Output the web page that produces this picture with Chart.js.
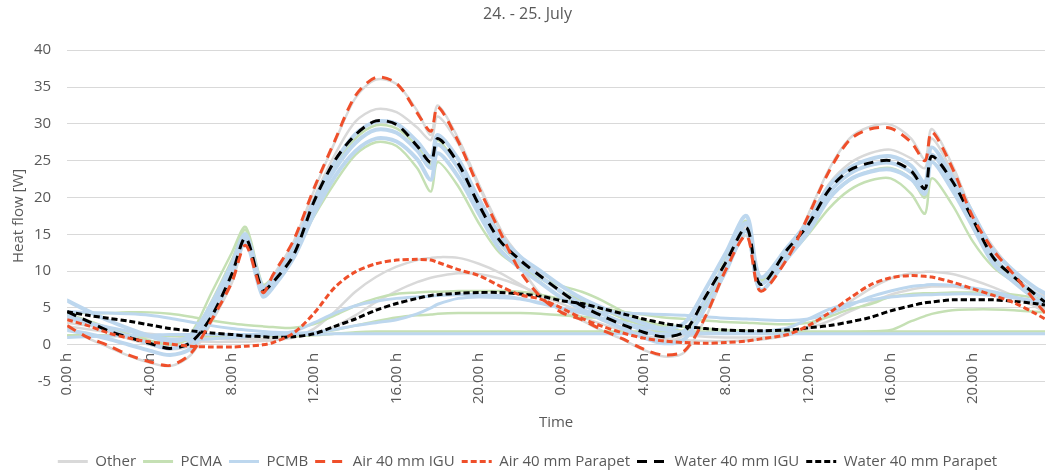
<!DOCTYPE html>
<html>
<head>
<meta charset="utf-8">
<script src="https://cdn.jsdelivr.net/npm/chart.js@4"></script>
<style>
  body { margin: 0; background: #fff; }
  canvas { display: block; }
</style>
</head>
<body>
<canvas id="heatChart" width="1048" height="474"></canvas>
<script>
// time in hours over the two days (extra points around the sharp peaks)
const hours = [0, 1, 2, 3, 4, 5, 6, 7, 8, 8.67, 9.5, 10, 11, 12, 13, 14, 15, 16, 17, 17.67, 18, 19, 20, 21, 22, 23,
  24, 25, 26, 27, 28, 29, 30, 31, 32, 33, 33.67, 35, 36, 37, 38, 39, 40, 41, 41.67, 42, 43, 44, 45, 46, 47, 47.5];

const xTicks = [0, 4, 8, 12, 16, 20, 24, 28, 32, 36, 40, 44];
const yTicks = [-5, 0, 5, 10, 15, 20, 25, 30, 35, 40];

// named series
const airIgu = [2.6, 1.0, -0.1, -1.4, -2.3, -2.8, -1.2, 3.3, 8.5, 13.5, 7.1, 9.5, 14.2, 21.3, 27.7, 33.8, 36.3, 35.5, 31.5, 29.0, 32.3, 27.6, 21.3, 15.5, 10.0, 6.5,
  4.4, 3.4, 2.0, 0.8, -0.6, -1.4, -0.8, 3.8, 10.2, 14.8, 7.3, 11.8, 17.5, 23.5, 27.8, 29.3, 29.4, 27.5, 25.0, 28.9, 24.0, 17.3, 12.8, 9.5, 6.0, 4.3];
const airParapet = [3.4, 2.6, 1.6, 0.9, 0.4, 0.1, -0.2, -0.3, -0.3, -0.2, 0.0, 0.3, 1.6, 4.3, 7.8, 9.9, 11.0, 11.5, 11.6, 11.5, 11.2, 10.2, 9.4, 8.0, 6.8, 6.2,
  5.0, 3.6, 2.5, 1.6, 0.9, 0.5, 0.3, 0.2, 0.3, 0.5, 0.8, 1.4, 2.6, 4.3, 6.3, 8.1, 9.1, 9.4, 9.3, 9.2, 8.5, 7.6, 6.7, 5.7, 4.3, 3.5];
const waterIgu = [4.5, 3.2, 1.9, 1.0, 0.2, -0.5, 0.3, 3.8, 9.6, 14.5, 7.4, 8.5, 12.2, 19.5, 25.0, 28.5, 30.4, 29.9, 27.0, 24.8, 28.0, 24.6, 19.0, 14.2, 11.5, 9.3,
  7.2, 5.3, 3.9, 2.7, 1.7, 1.1, 1.8, 6.5, 11.2, 15.9, 8.2, 13.0, 16.3, 21.0, 23.7, 24.7, 25.0, 23.6, 21.2, 25.6, 22.2, 17.0, 11.8, 9.2, 6.9, 5.8];
const waterParapet = [4.5, 4.0, 3.6, 3.2, 2.7, 2.2, 1.9, 1.6, 1.4, 1.2, 1.1, 1.0, 1.1, 1.5, 2.5, 3.5, 4.7, 5.6, 6.3, 6.7, 6.8, 7.0, 7.1, 7.1, 6.9, 6.6,
  6.0, 5.6, 4.9, 4.2, 3.5, 2.9, 2.5, 2.2, 2.0, 1.9, 1.9, 2.0, 2.3, 2.6, 3.1, 3.7, 4.6, 5.3, 5.7, 5.8, 6.1, 6.1, 6.1, 5.9, 5.6, 5.4];

// Other (grey)
const otherIgu1 = [2.4, 0.9, -0.3, -1.5, -2.4, -2.9, -1.4, 3.0, 8.4, 13.8, 7.0, 9.3, 14.0, 21.0, 27.5, 33.5, 36.0, 35.4, 31.8, 28.5, 32.5, 28.0, 21.8, 16.0, 10.8, 6.8,
  4.6, 3.3, 1.9, 0.7, -0.7, -1.6, -1.0, 3.6, 10.0, 14.8, 7.3, 11.9, 17.7, 23.8, 28.0, 29.6, 29.9, 28.0, 25.2, 29.3, 24.4, 17.8, 13.2, 9.8, 6.4, 4.7];
const otherIgu2 = [3.8, 2.8, 1.8, 0.8, 0.0, -0.6, 0.0, 4.0, 9.8, 14.8, 7.2, 8.6, 12.8, 20.0, 25.8, 30.3, 32.0, 31.6, 29.5, 27.8, 31.0, 27.3, 21.5, 15.8, 12.0, 9.5,
  7.0, 5.0, 3.6, 2.3, 1.2, 0.5, 1.4, 6.2, 11.0, 16.0, 8.5, 13.0, 17.0, 21.8, 24.6, 26.0, 26.5, 25.3, 24.0, 28.0, 23.5, 18.0, 12.8, 10.0, 7.6, 6.6];
const otherPar1 = [2.5, 2.1, 1.7, 1.3, 1.0, 0.7, 0.5, 0.4, 0.4, 0.4, 0.5, 0.6, 1.0, 2.2, 4.5, 7.2, 9.2, 10.6, 11.5, 11.8, 11.9, 11.8, 11.0, 9.8, 8.2, 6.5,
  5.0, 3.8, 2.8, 1.9, 1.2, 0.8, 0.6, 0.5, 0.5, 0.6, 0.7, 1.3, 2.5, 4.0, 5.8, 7.6, 9.0, 9.7, 9.9, 9.9, 9.6, 8.8, 7.8, 6.6, 5.2, 4.5];
const otherPar2 = [3.0, 2.6, 2.2, 1.8, 1.5, 1.2, 1.0, 0.9, 0.8, 0.8, 0.8, 0.9, 1.1, 1.5, 2.5, 4.0, 5.8, 7.3, 8.5, 9.1, 9.3, 9.7, 9.6, 9.0, 8.0, 6.8,
  5.6, 4.5, 3.6, 2.8, 2.1, 1.6, 1.3, 1.1, 1.0, 1.0, 1.0, 1.3, 2.2, 3.2, 4.5, 5.7, 6.8, 7.5, 7.8, 7.9, 7.9, 7.5, 7.0, 6.3, 5.5, 5.0];

// PCMA (green)
const pcmaIgu1 = [4.0, 3.0, 2.0, 1.2, 0.5, 0.0, 1.5, 7.0, 12.5, 16.0, 8.2, 9.2, 12.5, 17.5, 22.0, 25.8, 27.5, 27.0, 24.0, 20.8, 24.8, 21.5, 16.5, 12.5, 10.5, 9.0,
  8.0, 7.2, 6.0, 4.5, 3.3, 2.5, 2.0, 5.5, 11.0, 16.5, 9.0, 12.0, 15.0, 18.5, 21.0, 22.3, 22.6, 20.5, 17.8, 22.6, 19.0, 14.0, 10.5, 8.5, 6.5, 5.6];
const pcmaIgu2 = [4.2, 3.3, 2.3, 1.4, 0.6, 0.1, 1.0, 5.8, 11.5, 15.6, 8.0, 9.0, 12.8, 19.0, 24.3, 28.0, 29.8, 29.4, 27.0, 24.5, 27.8, 24.0, 18.5, 13.8, 11.0, 9.0,
  7.3, 6.0, 4.8, 3.6, 2.6, 1.9, 3.0, 7.5, 12.0, 16.8, 8.8, 12.6, 15.8, 19.8, 22.3, 23.6, 24.0, 22.5, 20.0, 24.8, 21.0, 16.0, 11.5, 9.0, 7.0, 6.2];
const pcmaPar1 = [4.3, 4.3, 4.3, 4.4, 4.4, 4.2, 3.8, 3.3, 2.9, 2.7, 2.5, 2.4, 2.3, 2.8, 4.0, 5.3, 6.3, 6.9, 7.1, 7.2, 7.2, 7.3, 7.3, 7.3, 7.2, 6.8,
  6.2, 5.6, 5.0, 4.5, 4.1, 3.7, 3.5, 3.3, 3.1, 3.0, 2.9, 2.8, 3.0, 3.8, 4.8, 5.5, 6.5, 6.9, 7.0, 7.0, 7.1, 7.1, 7.0, 6.8, 6.4, 6.1];
const pcmaPar2 = [1.3, 1.3, 1.3, 1.3, 1.3, 1.3, 1.3, 1.3, 1.3, 1.3, 1.3, 1.3, 1.4, 1.6, 2.0, 2.6, 3.2, 3.7, 4.0, 4.1, 4.2, 4.3, 4.3, 4.3, 4.3, 4.2,
  4.0, 3.8, 3.6, 3.3, 3.0, 2.7, 2.4, 2.2, 2.0, 1.9, 1.8, 1.7, 1.7, 1.7, 1.7, 1.8, 2.0, 3.2, 3.9, 4.2, 4.7, 4.8, 4.8, 4.7, 4.5, 4.4];
const pcmaPar3 = [1.2, 1.2, 1.2, 1.2, 1.2, 1.2, 1.2, 1.2, 1.2, 1.2, 1.2, 1.2, 1.2, 1.3, 1.5, 1.7, 1.8, 1.8, 1.8, 1.8, 1.8, 1.8, 1.8, 1.8, 1.8, 1.8,
  1.8, 1.8, 1.8, 1.8, 1.8, 1.8, 1.8, 1.8, 1.8, 1.8, 1.8, 1.8, 1.8, 1.8, 1.8, 1.8, 1.8, 1.8, 1.8, 1.8, 1.8, 1.8, 1.8, 1.8, 1.8, 1.8];

// PCMB (blue)
const pcmbIgu1 = [6.0, 4.6, 3.3, 2.2, 1.2, 0.4, 1.3, 5.5, 11.0, 15.0, 7.8, 9.0, 13.2, 19.6, 24.8, 28.6, 30.3, 30.0, 27.6, 25.5, 28.5, 25.2, 19.8, 15.0, 12.0, 10.0,
  8.0, 6.3, 5.0, 3.9, 2.9, 2.2, 3.0, 7.5, 12.5, 17.5, 9.2, 13.3, 16.8, 21.5, 24.0, 25.2, 25.6, 24.3, 22.0, 26.8, 22.8, 17.8, 12.8, 10.0, 7.8, 7.0];
const pcmbIgu3 = [4.0, 3.0, 2.0, 1.1, 0.2, -0.5, 0.4, 4.5, 10.2, 14.5, 7.2, 8.4, 12.5, 18.7, 23.8, 27.4, 29.2, 28.8, 26.4, 24.0, 27.2, 24.0, 18.8, 14.0, 11.2, 9.2,
  7.2, 5.5, 4.2, 3.0, 2.0, 1.2, 1.9, 6.2, 11.2, 16.5, 8.3, 12.5, 16.0, 20.6, 23.2, 24.4, 24.7, 23.4, 21.2, 25.8, 21.9, 16.9, 11.9, 9.2, 7.0, 6.2];
const pcmbIgu2 = [2.0, 1.5, 0.8, 0.0, -0.8, -1.4, -0.5, 3.5, 9.5, 14.0, 6.6, 7.8, 11.8, 17.8, 22.8, 26.3, 28.0, 27.6, 25.2, 22.4, 26.0, 22.8, 17.8, 13.0, 10.4, 8.4,
  6.4, 4.8, 3.4, 2.2, 1.0, 0.2, 0.8, 5.0, 10.0, 15.5, 7.5, 11.8, 15.3, 19.8, 22.4, 23.5, 23.8, 22.5, 20.5, 24.8, 21.0, 16.0, 11.0, 8.5, 6.3, 5.5];
const pcmbPar1 = [4.5, 4.4, 4.3, 4.2, 4.0, 3.6, 3.1, 2.6, 2.2, 2.0, 1.8, 1.7, 1.6, 1.7, 2.1, 2.6, 3.0, 3.4, 4.2, 5.0, 5.5, 6.3, 6.5, 6.4, 6.2, 5.6,
  5.0, 4.6, 4.4, 4.3, 4.2, 4.1, 4.0, 3.8, 3.6, 3.5, 3.4, 3.3, 3.5, 4.2, 5.3, 6.5, 7.3, 7.9, 8.1, 8.2, 8.1, 7.7, 7.2, 6.5, 5.8, 5.4];
const pcmbPar2 = [3.5, 3.0, 2.4, 1.8, 1.2, 0.8, 0.7, 0.8, 1.0, 1.1, 1.3, 1.4, 1.8, 3.0, 4.3, 5.3, 5.9, 6.3, 6.5, 6.6, 6.7, 6.8, 6.8, 6.7, 6.3, 5.7,
  5.0, 4.3, 3.6, 3.0, 2.4, 2.0, 1.7, 1.6, 1.6, 1.7, 1.8, 2.3, 3.5, 4.8, 5.6, 6.1, 6.5, 6.7, 6.8, 6.8, 6.9, 6.9, 6.7, 6.4, 6.0, 5.7];
const pcmbPar3 = [1.0, 1.1, 1.2, 1.3, 1.3, 1.4, 1.4, 1.4, 1.4, 1.4, 1.4, 1.4, 1.4, 1.4, 1.5, 1.5, 1.5, 1.5, 1.5, 1.5, 1.5, 1.5, 1.5, 1.5, 1.5, 1.5,
  1.5, 1.5, 1.5, 1.5, 1.5, 1.5, 1.5, 1.5, 1.5, 1.5, 1.5, 1.5, 1.5, 1.5, 1.5, 1.5, 1.5, 1.5, 1.5, 1.5, 1.5, 1.5, 1.5, 1.5, 1.5, 1.5];

const GREY = '#d9d9d9';
const GREEN = '#c5e0b4';
const BLUE = '#bdd7ee';
const RED = '#ef4f2a';
const BLACK = '#000000';
const TEXT = '#595959';
const FONT = 'Open Sans';

function toPoints(values) {
    return values.map((v, i) => ({ x: hours[i], y: v }));
}

function solid(label, values, color, width, order, inLegend) {
    return {
        label: label,
        data: toPoints(values),
        borderColor: color,
        backgroundColor: color,
        borderWidth: width,
        borderCapStyle: 'round',
        order: order,
        inLegend: inLegend
    };
}

function dashed(label, values, dash) {
    const color = label.startsWith('Air') ? RED : BLACK;
    return {
        label: label,
        data: toPoints(values),
        borderColor: color,
        backgroundColor: color,
        borderWidth: 3,
        borderDash: dash,
        order: 0,
        inLegend: true
    };
}

const datasets = [
    solid('Other', otherIgu1, GREY, 2.5, 3, true),
    solid('Other', otherIgu2, GREY, 2.5, 3, false),
    solid('Other', otherPar1, GREY, 2.5, 3, false),
    solid('Other', otherPar2, GREY, 2.5, 3, false),
    solid('PCMA', pcmaIgu1, GREEN, 2.5, 2, true),
    solid('PCMA', pcmaIgu2, GREEN, 2.5, 2, false),
    solid('PCMA', pcmaPar1, GREEN, 2.5, 2, false),
    solid('PCMA', pcmaPar2, GREEN, 2.5, 2, false),
    solid('PCMA', pcmaPar3, GREEN, 2.5, 2, false),
    solid('PCMB', pcmbIgu1, BLUE, 4, 1, true),
    solid('PCMB', pcmbIgu3, BLUE, 4, 1, false),
    solid('PCMB', pcmbIgu2, BLUE, 4, 1, false),
    solid('PCMB', pcmbPar1, BLUE, 3, 1, false),
    solid('PCMB', pcmbPar2, BLUE, 3, 1, false),
    solid('PCMB', pcmbPar3, BLUE, 3, 1, false),
    dashed('Air 40 mm IGU', airIgu, [10, 7]),
    dashed('Air 40 mm Parapet', airParapet, [6, 3]),
    dashed('Water 40 mm IGU', waterIgu, [10, 7]),
    dashed('Water 40 mm Parapet', waterParapet, [6, 3])
];

// legend shows one entry per group, drawn as a short line with the dataset's dash
function legendLabels(chart) {
    const items = Chart.defaults.plugins.legend.labels.generateLabels(chart);
    items.forEach(item => {
        const ds = chart.data.datasets[item.datasetIndex];
        item.pointStyle = 'line';
        item.strokeStyle = ds.borderColor;
        item.lineWidth = 3;
        item.lineDash = ds.borderDash ? ds.borderDash.slice() : [];
        item.lineCap = 'butt';
    });
    return items;
}

const ctx = document.getElementById('heatChart').getContext('2d');
new Chart(ctx, {
    type: 'line',
    data: { datasets: datasets },
    options: {
        responsive: false,
        animation: false,
        layout: { padding: { left: 10, right: 3, top: 0, bottom: -5 } },
        elements: {
            point: { radius: 0, hoverRadius: 0 },
            line: { tension: 0.3, fill: false }
        },
        scales: {
            x: {
                type: 'linear',
                min: 0,
                max: 47.5,
                position: { y: 0 },
                afterBuildTicks: function(scale) {
                    scale.ticks = xTicks.map(v => ({ value: v }));
                },
                grid: { display: false, drawTicks: false },
                border: { display: true, color: GREY, width: 1 },
                ticks: {
                    autoSkip: false,
                    maxRotation: 90,
                    minRotation: 90,
                    padding: 8,
                    color: TEXT,
                    font: { family: FONT, size: 15 },
                    callback: function(value) {
                        return (value % 24).toFixed(2) + ' h';
                    }
                },
                title: {
                    display: true,
                    text: 'Time',
                    color: TEXT,
                    font: { family: FONT, size: 15 },
                    padding: { top: 2, bottom: 0 }
                }
            },
            y: {
                min: -5,
                max: 40,
                afterBuildTicks: function(scale) {
                    scale.ticks = yTicks.map(v => ({ value: v }));
                },
                grid: { color: GREY, drawTicks: false },
                border: { display: false },
                ticks: {
                    padding: 16,
                    color: TEXT,
                    font: { family: FONT, size: 15 }
                },
                title: {
                    display: true,
                    text: 'Heat flow [W]',
                    color: TEXT,
                    font: { family: FONT, size: 15 },
                    padding: { top: 0, bottom: -10 }
                }
            }
        },
        plugins: {
            title: {
                display: true,
                text: '24. - 25. July',
                color: TEXT,
                font: { family: FONT, size: 16, weight: 'normal' },
                padding: { top: 5, bottom: 26 }
            },
            legend: {
                position: 'bottom',
                title: { display: true, text: '', padding: { top: 51, bottom: 0 } },
                labels: {
                    usePointStyle: true,
                    pointStyle: 'line',
                    pointStyleWidth: 30,
                    color: TEXT,
                    font: { family: FONT, size: 15 },
                    padding: 7,
                    generateLabels: legendLabels,
                    filter: function(item, data) {
                        return data.datasets[item.datasetIndex].inLegend;
                    },
                    sort: function(a, b) {
                        return a.datasetIndex - b.datasetIndex;
                    }
                }
            },
            tooltip: { enabled: false }
        }
    }
});
</script>
</body>
</html>
